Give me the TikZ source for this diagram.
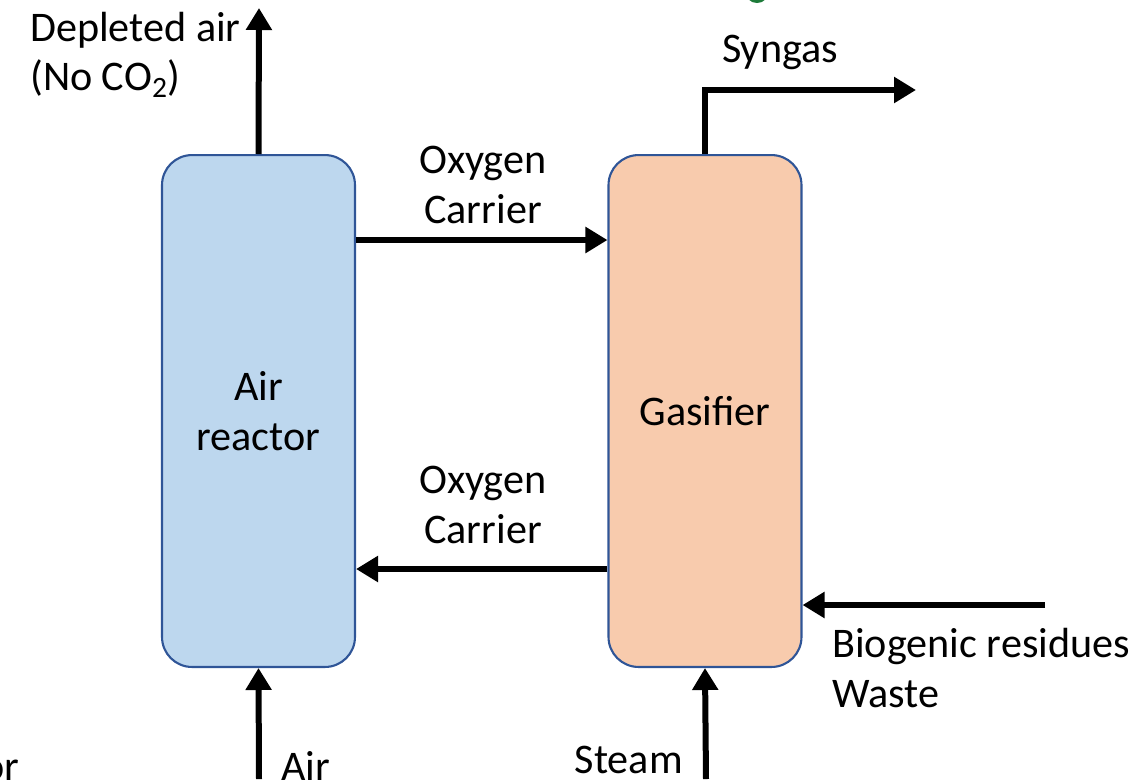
\documentclass[tikz,border=0pt]{standalone}
\usepackage{fontspec}
\setmainfont{Carlito}
\usetikzlibrary{arrows.meta,positioning}
\definecolor{ReactorBlue}{HTML}{BDD7EE}
\definecolor{GasifierPeach}{HTML}{F8CBAD}
\definecolor{EdgeBlue}{HTML}{2F5597}
\definecolor{MarkGreen}{HTML}{1E7B3A}

\begin{document}
\begin{tikzpicture}[x=0.02cm, y=-0.02cm,
  reactor/.style={draw=EdgeBlue, line width=1.2pt, rounded corners=0.6cm,
                  minimum width=3.86cm, minimum height=10.24cm,
                  align=center, font=\fontsize{24}{28.5}\selectfont},
  flow/.style={-{Triangle[length=0.44cm, width=0.5cm]}, line width=0.12cm},
  lbl/.style={font=\fontsize{24}{28}\selectfont, inner sep=0pt}
]
  \useasboundingbox (0,0) rectangle (1147,779);
  \clip (0,0) rectangle (1147,779);

  % reactors
  \node[reactor, fill=ReactorBlue]   (air) at (258.5,411) {Air\\reactor};
  \node[reactor, fill=GasifierPeach] (gas) at (705,411)   {Gasifier};

  % free ends
  \coordinate (depleted) at (259,8);
  \coordinate (airin)    at (259,779);
  \coordinate (steamin)  at (706,779);
  \coordinate (synout)   at (916,90);
  \coordinate (bioin)    at (1045,605);

  % streams
  \draw[flow] (air.north) -- (depleted);
  \draw[flow] (airin) -- (air.south);
  \draw[flow] (steamin) -- (gas.south);
  \draw[flow] (air.east |- 0,240) -- (gas.west |- 0,240);
  \draw[flow] (gas.west |- 0,569) -- (air.east |- 0,569);
  \draw[flow] (gas.north) |- (synout);
  \draw[flow] (bioin) -- (gas.east |- bioin);

  % labels
  \node[lbl, anchor=east, align=left] (deplbl) at (241,55)
    {Depleted air\\(No CO\textsubscript{2})};
  \node[lbl, align=center] (oc1) at (483,185) {Oxygen\\Carrier};
  \node[lbl, align=center] (oc2) at (483,505) {Oxygen\\Carrier};
  \node[lbl] (synlbl) at (780,52) {Syngas};
  \node[lbl, anchor=west, align=left] (biolbl) at (832,668)
    {Biogenic residues\\Waste};
  \node[lbl, anchor=west] (airlbl) at (281,766) {Air};
  \node[lbl, anchor=east] (steamlbl) at (683,760) {Steam};
  \node[lbl, anchor=east] (orlbl) at (20,770) {or};
  \fill[MarkGreen] (757,-9) circle (12);
\end{tikzpicture}
\end{document}
